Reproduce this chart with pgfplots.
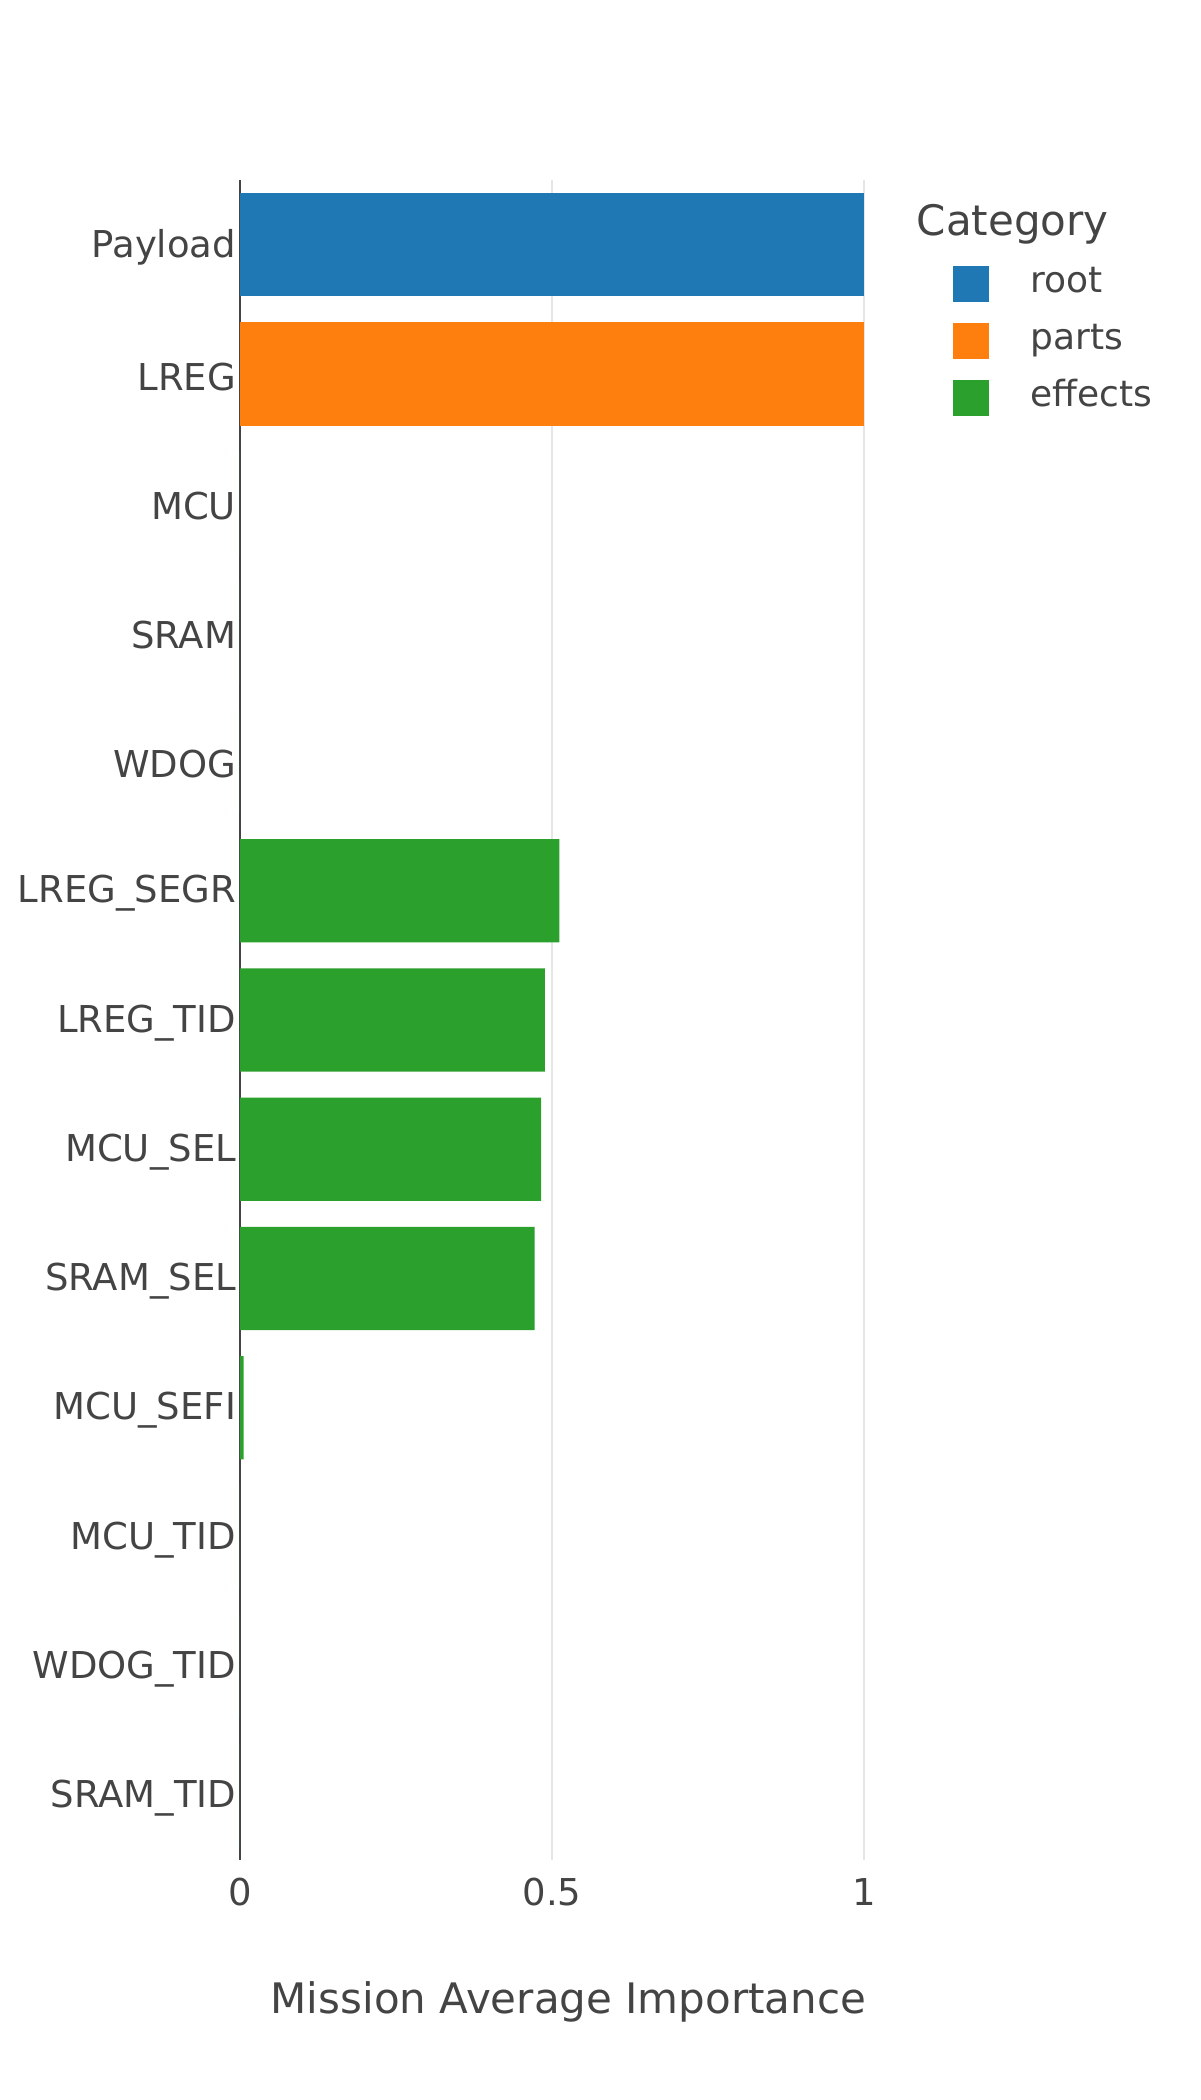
\documentclass[border=0pt]{standalone}
\usepackage{pgfplots}
\pgfplotsset{compat=1.18}
\usepackage{fontspec}
\setmainfont{DejaVu Sans}
\definecolor{txt}{HTML}{444444}
\definecolor{cblue}{HTML}{1F77B4}
\definecolor{corange}{HTML}{FF7F0E}
\definecolor{cgreen}{HTML}{2CA02C}
\definecolor{gridc}{HTML}{E6E6E6}
\begin{document}
\begin{tikzpicture}[x=1pt,y=1pt]
\useasboundingbox (0,0) rectangle (300,525);
\begin{axis}[
  at={(60pt,60pt)}, anchor=south west,
  scale only axis, width=164.25pt, height=420pt,
  xmin=0, xmax=1.0526, ymin=-0.5, ymax=12.5, y dir=reverse,
  xbar, bar width=0.8, bar shift=0pt,
  axis line style={draw=none},
  xtick={0.5,1}, xticklabels={0.5,1},
  extra x ticks={0}, extra x tick labels={0},
  extra x tick style={major grid style={draw=txt, line width=0.6pt}},
  xmajorgrids, major grid style={draw=gridc, line width=0.5pt},
  major tick length=0pt, tick style={draw=none},
  ytick={0,...,12},
  yticklabels={Payload,LREG,MCU,SRAM,WDOG,LREG\_SEGR,LREG\_TID,MCU\_SEL,SRAM\_SEL,MCU\_SEFI,MCU\_TID,WDOG\_TID,SRAM\_TID},
  tick label style={font=\fontsize{9.25}{10}\selectfont, text=txt},
  /pgf/number format/assume math mode=true,
  yticklabel style={inner xsep=0.8pt, yshift=-0.7pt},
  xticklabel style={yshift=-1pt},
  xlabel={Mission Average Importance},
  xlabel style={font=\fontsize{10.5}{12}\selectfont, text=txt, at={(axis description cs:0.5,0)}, anchor=center, yshift=-35.5pt},
  legend image code/.code={\fill[#1,draw=none] (0pt,-4.5pt) rectangle (9pt,4.5pt);},
  legend style={draw=none, fill=none, at={(axis description cs:1.0837,0.9495)}, anchor=north west,
    inner sep=0pt, column sep=10.5pt, row sep=5.25pt,
    font=\fontsize{9}{10}\selectfont, text=txt,
    nodes={inner sep=0pt, text height=6.8pt, text depth=2.2pt, anchor=west}},
  legend cell align=left,
]
\addplot[fill=cblue, draw=none] coordinates {(1,0)};
\addlegendentry{root}
\addplot[fill=corange, draw=none] coordinates {(1,1)};
\addlegendentry{parts}
\addplot[fill=cgreen, draw=none] coordinates {(0,2) (0,3) (0,4) (0.5117,5) (0.4883,6) (0.4824,7) (0.4722,8) (0.006,9) (0,10) (0,11) (0,12)};
\addlegendentry{effects}
\end{axis}
\node[anchor=base west, inner sep=0pt, font=\fontsize{10.5}{12}\selectfont, text=txt] at (229,466) {Category};
\end{tikzpicture}
\end{document}
